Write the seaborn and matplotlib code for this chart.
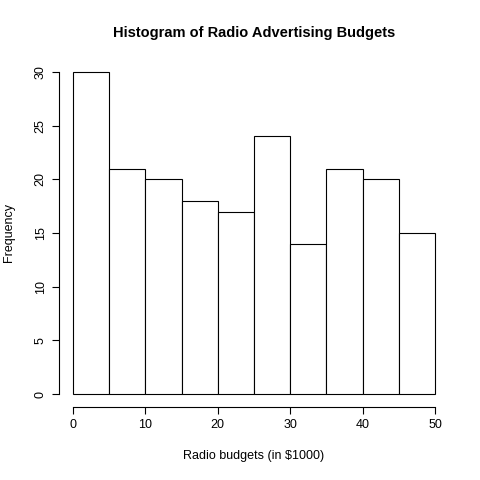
import matplotlib
matplotlib.use("Agg")
import matplotlib.pyplot as plt
import seaborn as sns

# bin edges and counts
bin_edges = [0, 5, 10, 15, 20, 25, 30, 35, 40, 45, 50]
counts = [30, 21, 20, 18, 17, 24, 14, 21, 20, 15]
centers = [(a + b) / 2 for a, b in zip(bin_edges[:-1], bin_edges[1:])]

sns.set_style("white")
plt.rcParams['font.family'] = ['Liberation Sans', 'DejaVu Sans']
plt.rcParams['text.color'] = 'black'
plt.rcParams['axes.labelcolor'] = 'black'
plt.rcParams['xtick.color'] = 'black'
plt.rcParams['ytick.color'] = 'black'

fig = plt.figure(figsize=(4.8, 4.8), dpi=100)
ax = fig.add_axes([58.5 / 480, (480 - 407) / 480, (449.5 - 58.5) / 480, (407 - 59) / 480])

sns.histplot(x=centers, weights=counts, bins=bin_edges, ax=ax,
             color="white", edgecolor="black", linewidth=0.8, alpha=1)

ax.set_xlim(-2, 52)
ax.set_ylim(-1.2, 31.2)
ax.set_xticks([0, 10, 20, 30, 40, 50])
ax.set_yticks([0, 5, 10, 15, 20, 25, 30])
ax.tick_params(axis='both', length=5, width=0.8, labelsize=9, direction='out',
               bottom=True, left=True, color='black', labelcolor='black')
plt.setp(ax.get_yticklabels(), rotation=90, va='center')

for s in ['top', 'right']:
    ax.spines[s].set_visible(False)
ax.spines['left'].set_bounds(0, 30)
ax.spines['bottom'].set_bounds(0, 50)
for s in ['left', 'bottom']:
    ax.spines[s].set_color('black')
    ax.spines[s].set_linewidth(0.8)

ax.set_title("Histogram of Radio Advertising Budgets", fontsize=10.5,
             fontweight='bold', pad=16, color='black')
ax.set_xlabel("Radio budgets (in $1000)", fontsize=9, labelpad=14)
ax.set_ylabel("Frequency", fontsize=9, labelpad=14)

fig.savefig("out.png", dpi=100)
